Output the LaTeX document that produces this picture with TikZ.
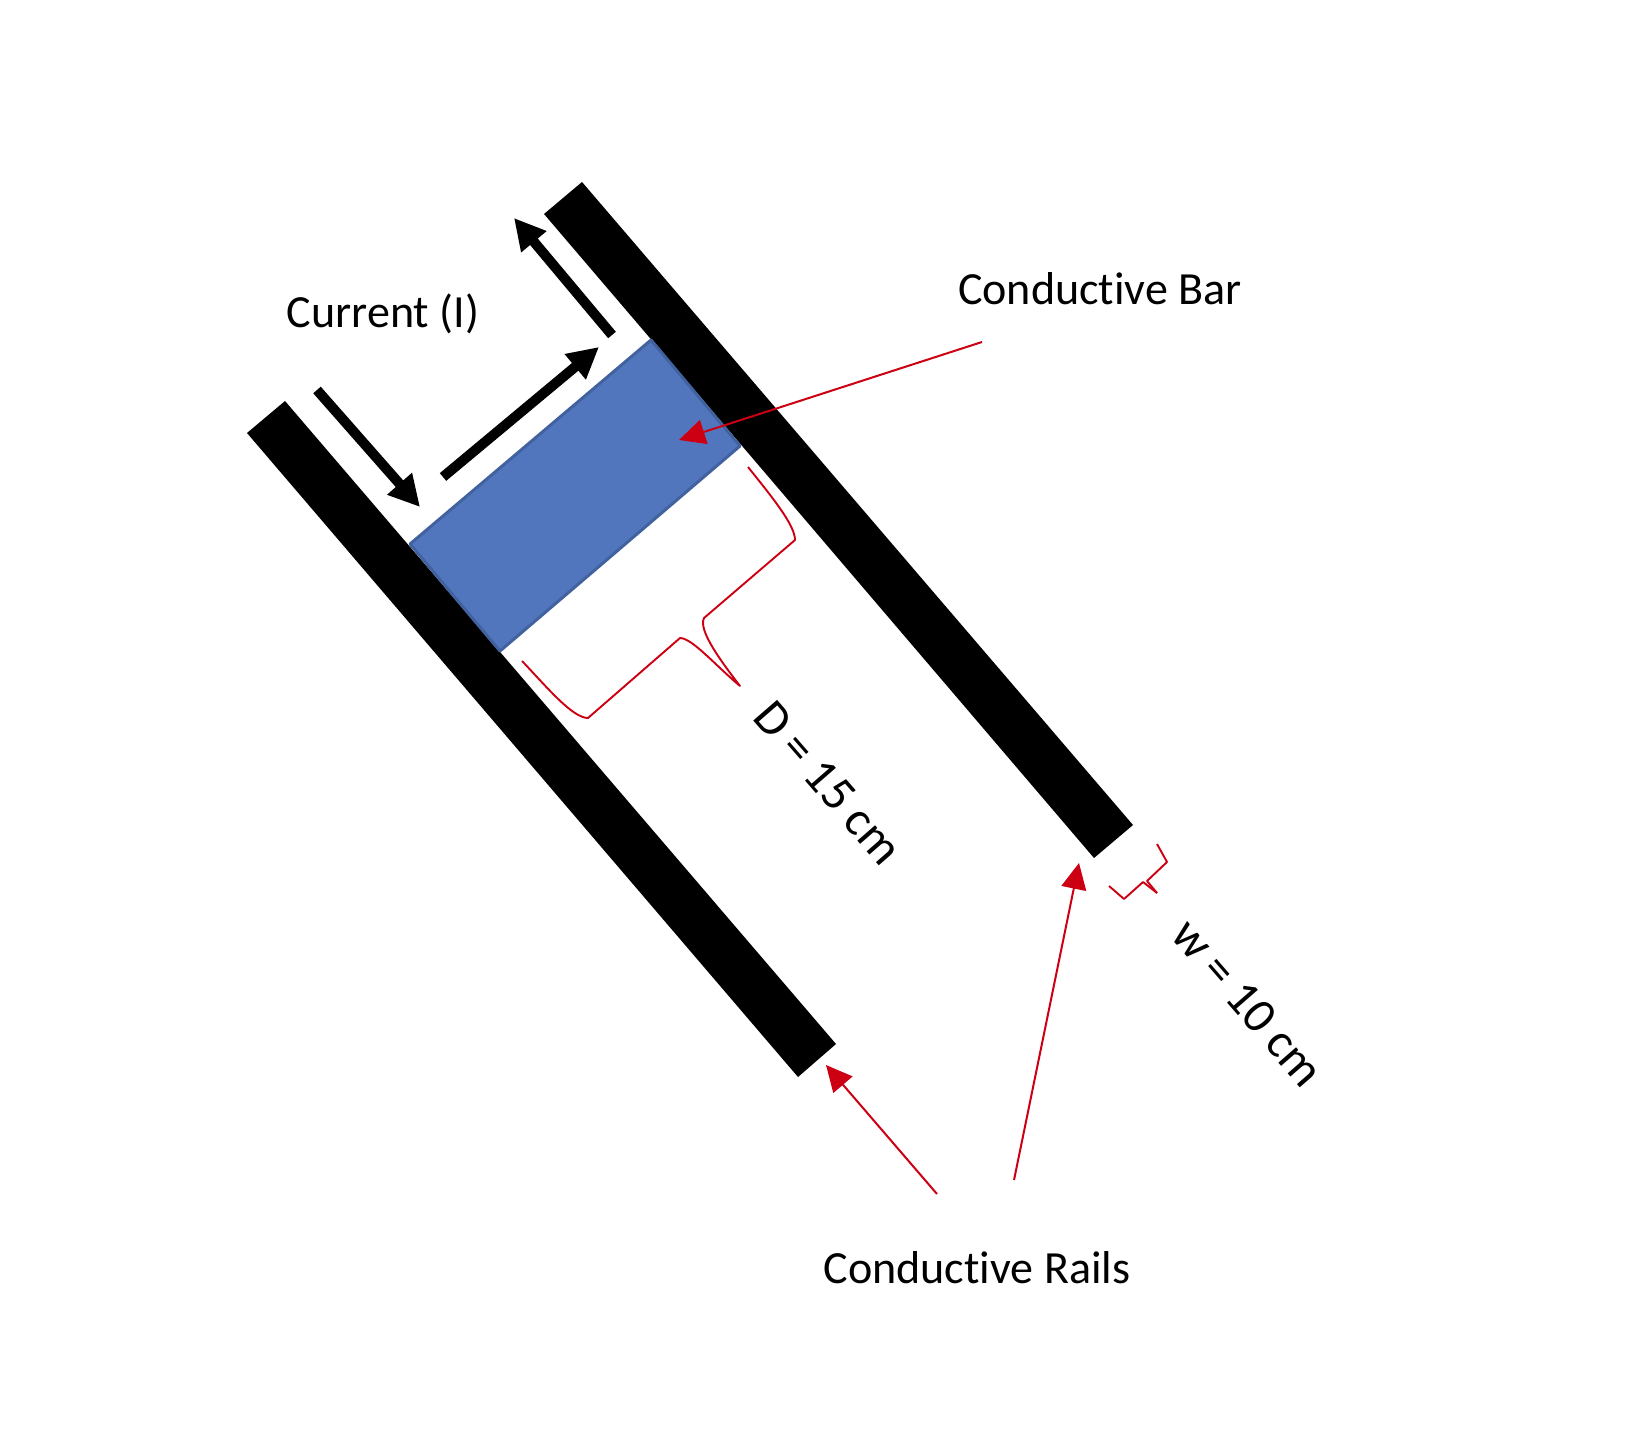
\documentclass[tikz,border=0pt]{standalone}
\usepackage{fontspec}
\setmainfont{Carlito}[Ligatures=NoCommon]
\usetikzlibrary{arrows.meta}
\definecolor{barblue}{HTML}{5276BE}
\definecolor{baredge}{HTML}{42629F}
\definecolor{notered}{HTML}{CC0012}
\tikzset{
  rail/.style={fill=black},
  flow/.style={line width=0.1cm,-{Triangle[length=0.31cm,width=0.31cm]}},
  note/.style={notered,line width=0.02cm,-{Triangle[length=0.26cm,width=0.25cm]}},
  brace/.style={notered,line width=0.019cm,line join=round},
  lbl/.style={font=\fontsize{13.1}{15}\selectfont,inner sep=0pt},
  dimlbl/.style={font=\fontsize{14}{16}\selectfont,inner sep=0pt,rotate=-49}
}
\begin{document}
\begin{tikzpicture}[x=0.01cm,y=-0.01cm,line join=round]
\useasboundingbox (0,0) rectangle (1628,1455);
% rails
\fill[rail] (285,401)--(247,433)--(798,1077)--(836,1044)--cycle;
\fill[rail] (582,182)--(544,214)--(1094,858)--(1133,825)--cycle;
% bar
\draw[fill=barblue,draw=baredge,line width=0.03cm] (410,544)--(651,340)--(740,446)--(500,651)--cycle;
% current
\coordinate (a1) at (317,390); \coordinate (b1) at (420,507);
\coordinate (a2) at (443,477); \coordinate (b2) at (599,347);
\coordinate (a3) at (612,335); \coordinate (b3) at (514,218);
\draw[flow] (a1)--(b1);
\draw[flow] (a2)--(b2);
\draw[flow] (a3)--(b3);
\node[lbl] (current) at (383,314) {Current (I)};
% labels
\node[lbl] (barlbl) at (1100,289) {Conductive Bar};
\node[lbl] (raillbl) at (977,1268) {Conductive Rails};
\node[dimlbl] (dlbl) at (828,783) {D = 15 cm};
\node[dimlbl] (wlbl) at (1248,1003) {w = 10 cm};
% red pointers
\coordinate (p1) at (982,342); \coordinate (q1) at (679,440);
\coordinate (p2) at (937,1194); \coordinate (q2) at (826,1065);
\coordinate (p3) at (1014,1180); \coordinate (q3) at (1079,863);
\draw[note] (p1)--(q1);
\draw[note] (p2)--(q2);
\draw[note] (p3)--(q3);
% braces
\draw[brace] (748,467) .. controls (772,497) and (795,525) .. (795,540)
  -- (704,618) .. controls (698,630) and (720,660) .. (740,686)
  .. controls (715,665) and (692,638) .. (680,638)
  -- (588,718) .. controls (572,718) and (545,685) .. (522,661);
\draw[brace] (1157,844) -- (1167,862) -- (1147,881) -- (1157,893);
\draw[brace] (1157,893) -- (1143,882) -- (1124,899) -- (1109,886);
\end{tikzpicture}
\end{document}
